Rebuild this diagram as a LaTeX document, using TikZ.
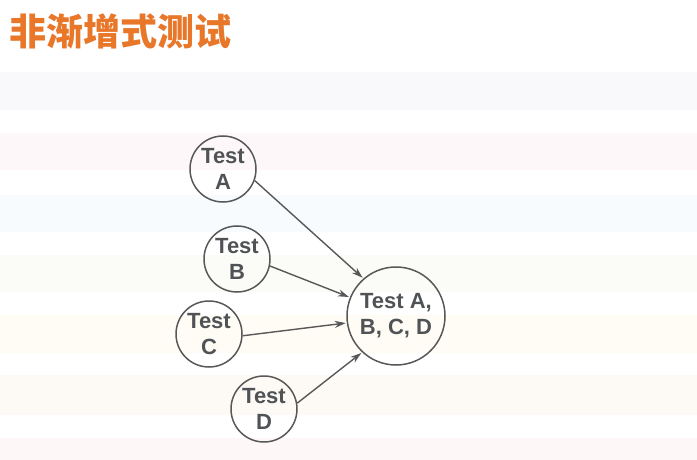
\documentclass[tikz,border=0pt]{standalone}
\usepackage{fontspec}
\setmainfont{Liberation Sans}
\newfontfamily\cjk{Noto Sans CJK SC}
\usetikzlibrary{arrows.meta}
\definecolor{titleorange}{HTML}{E8772A}
\definecolor{txtgray}{HTML}{505356}
\definecolor{linegray}{HTML}{585858}
\definecolor{band1}{HTML}{F9F8FB}
\definecolor{band2}{HTML}{FDF7F9}
\definecolor{band3}{HTML}{F7FBFE}
\definecolor{band4}{HTML}{FBFCF7}
\definecolor{band5}{HTML}{FEFCF5}
\definecolor{band6}{HTML}{FDFAF6}
\definecolor{band7}{HTML}{FDF7F7}
\tikzstyle{test_node}=[circle, draw=linegray, line width=1.5pt, inner sep=0pt,
    text=txtgray, align=center, font=\fontsize{22}{26}\selectfont\bfseries]
\tikzstyle{test_small}=[test_node, minimum size=66pt]
\tikzstyle{test_big}=[test_node, minimum size=98pt]
\tikzstyle{merge_arrow}=[draw=linegray, line width=1.4pt,
    -{Stealth[length=11pt, width=7pt, inset=3.5pt]}, shorten >=1pt]

\begin{document}
\begin{tikzpicture}[x=1pt, y=-1pt]
              \useasboundingbox (0,0) rectangle (697,460);
              % background bands
              \fill[band1] (0,72) rectangle (697,110);
              \fill[band2] (0,133) rectangle (697,170);
              \fill[band3] (0,195) rectangle (697,232);
              \fill[band4] (0,255) rectangle (697,292);
              \fill[band5] (0,315) rectangle (697,353);
              \fill[band6] (0,375) rectangle (697,415);
              \fill[band7] (0,438) rectangle (697,460);
              \node[anchor=base west, inner sep=0pt, text=titleorange,
                    font=\fontsize{37}{40}\cjk\bfseries] (title) at (9,46) {非渐增式测试};
              \node[test_small] (tA) at (223,169) {Test\\A};
              \node[test_small] (tB) at (237,259) {Test\\B};
              \node[test_small] (tC) at (209,334) {Test\\C};
              \node[test_small] (tD) at (264,409) {Test\\D};
              \node[test_big] (tAll) at (396,316) {Test A,\\B, C, D};
              \draw[merge_arrow] (tA.-20) -- (tAll.131);
              \draw[merge_arrow] (tB.-12) -- (tAll.158);
              \draw[merge_arrow] (tC.-3) -- (tAll.-172);
              \draw[merge_arrow] (tD.10) -- (tAll.-133);
            \end{tikzpicture}
\end{document}
